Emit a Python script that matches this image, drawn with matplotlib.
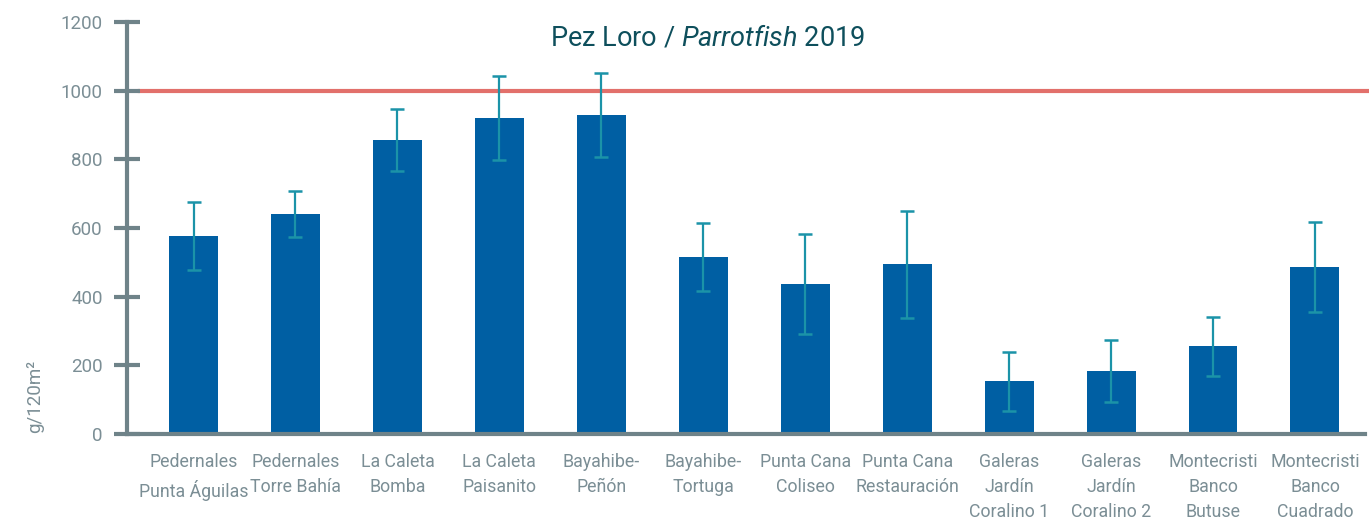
import matplotlib
matplotlib.use("Agg")
import matplotlib.pyplot as plt

sites = ["Pedernales\nPunta Águilas", "Pedernales\nTorre Bahía", "La Caleta\nBomba",
         "La Caleta\nPaisanito", "Bayahibe-\nPeñón", "Bayahibe-\nTortuga",
         "Punta Cana\nColiseo", "Punta Cana\nRestauración", "Galeras\nJardín\nCoralino 1",
         "Galeras\nJardín\nCoralino 2", "Montecristi\nBanco\nButuse", "Montecristi\nBanco\nCuadrado"]
biomass = [577, 641, 856, 920, 929, 516, 437, 495, 154, 184, 256, 486]
errors = [99, 68, 90, 122, 122, 100, 146, 156, 86, 90, 86, 131]
yticks = [0, 200, 400, 600, 800, 1000, 1200]
target = 1000

plt.rcParams['font.family'] = ["Roboto", "DejaVu Sans"]
plt.rcParams['font.stretch'] = 'condensed'
plt.rcParams['mathtext.fontset'] = 'custom'
plt.rcParams['mathtext.rm'] = 'Roboto'
plt.rcParams['mathtext.it'] = 'Roboto:italic'

axis_col = "#6f8389"
label_col = "#7b8e95"

fig = plt.figure(figsize=(13.69, 5.25), dpi=100)
ax = fig.add_axes([0.0928, 0.1733, 0.9042, 0.7847])

x = list(range(len(sites)))
ax.bar(x, biomass, width=0.48, color="#005fa3", zorder=2)
ax.errorbar(x, biomass, yerr=errors, fmt="none", ecolor="#1b93a8",
            elinewidth=1.6, capsize=5, capthick=1.8, zorder=3)

# reference line
ax.axhline(target, xmin=0.0105, xmax=1.1, color="#e2706b", lw=3, clip_on=False, zorder=1)

ax.set_xlim(-0.652, 11.49)
ax.set_ylim(0, 1200)
ax.set_yticks(yticks)
ax.set_xticks(x)
ax.set_xticklabels(sites, fontsize=12.8, color=label_col, linespacing=1.5)
ax.tick_params(axis="x", length=0, pad=14)
ax.tick_params(axis="y", direction="inout", length=19, width=3, color=axis_col,
               labelsize=13.5, labelcolor=label_col, pad=8)

for s in ["top", "right"]:
    ax.spines[s].set_visible(False)
for s in ["left", "bottom"]:
    ax.spines[s].set_color(axis_col)
    ax.spines[s].set_linewidth(3)

fig.text(0.026, 0.245, "g/120m²", rotation=90, fontsize=13.5, color=label_col,
         ha="center", va="center")
fig.text(0.517, 0.928, r"Pez Loro / $\mathit{Parrotfish}$ 2019", fontsize=19.5,
         color="#0e4f5c", ha="center", va="center")

fig.savefig("out.png", dpi=100)
